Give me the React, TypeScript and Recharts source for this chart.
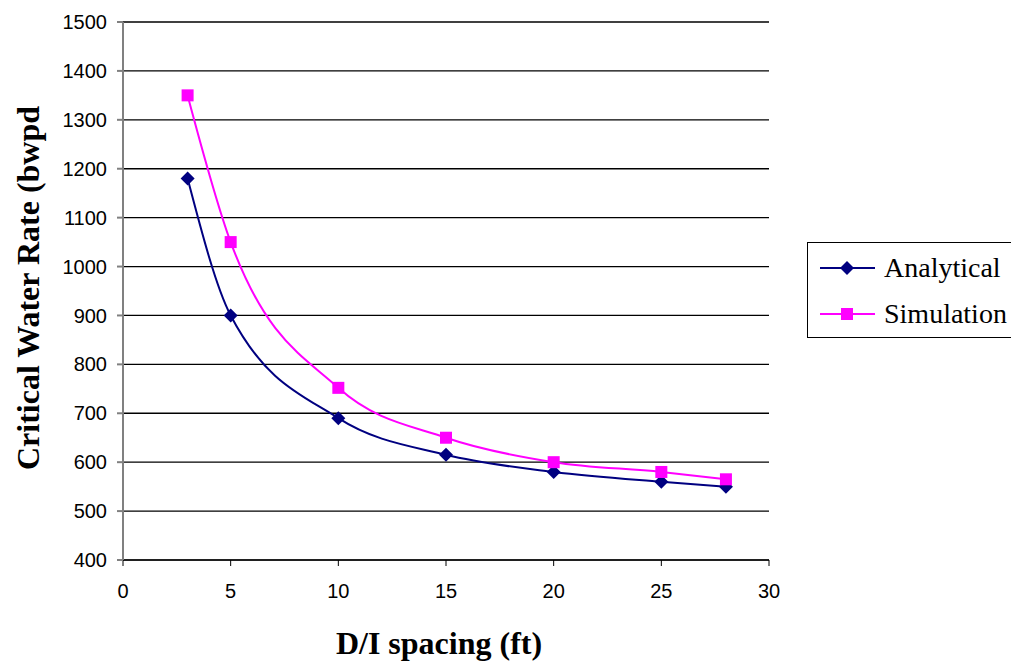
import React from "react";
import {
  LineChart,
  Line,
  XAxis,
  YAxis,
  CartesianGrid,
  Label,
} from "recharts";

const spacing = [3, 5, 10, 15, 20, 25, 28];
const analytical = [1180, 900, 690, 615, 580, 560, 550];
const simulation = [1350, 1050, 752, 650, 600, 580, 565];
const xTicks = [0, 5, 10, 15, 20, 25, 30];
const yTicks = [400, 500, 600, 700, 800, 900, 1000, 1100, 1200, 1300, 1400, 1500];

const data = spacing.map((s, i) => ({
  spacing: s,
  analytical: analytical[i],
  simulation: simulation[i],
}));

const NAVY = "#000080";
const PINK = "#FF00FF";
const SERIF = "'Liberation Serif', 'Times New Roman', serif";
const SANS = "'Liberation Sans', Arial, sans-serif";

const Diamond = (props: any) => {
  const { cx, cy, index } = props;
  const r = 7;
  return (
    <path
      key={"d" + index}
      d={`M${cx},${cy - r}L${cx + r},${cy}L${cx},${cy + r}L${cx - r},${cy}Z`}
      fill={NAVY}
    />
  );
};

const Square = (props: any) => {
  const { cx, cy, index } = props;
  const s = 12;
  return <rect key={"s" + index} x={cx - s / 2} y={cy - s / 2} width={s} height={s} fill={PINK} />;
};

const LegendBox = () => (
  <div
    style={{
      position: "absolute",
      left: 807,
      top: 242,
      border: "1px solid #000",
      width: 220,
      height: 96,
      boxSizing: "border-box",
      fontFamily: SERIF,
      fontSize: 28,
      background: "#fff",
      paddingTop: 2,
    }}
  >
    {[
      { name: "Analytical", color: NAVY, shape: "d" },
      { name: "Simulation", color: PINK, shape: "s" },
    ].map((e) => (
      <div key={e.name} style={{ display: "flex", alignItems: "center", height: 46 }}>
        <svg width={66} height={20} style={{ marginLeft: 10 }}>
          <line x1={2} y1={10} x2={57} y2={10} stroke={e.color} strokeWidth={2} />
          {e.shape === "d" ? (
            <path d="M29,3L36,10L29,17L22,10Z" fill={e.color} />
          ) : (
            <rect x={23} y={4} width={12} height={12} fill={e.color} />
          )}
        </svg>
        <span>{e.name}</span>
      </div>
    ))}
  </div>
);

const App = () => {
  return (
    <div style={{ position: "absolute", left: 0, top: 0, width: 1011, height: 663 }}>
      <LineChart
        width={1011}
        height={663}
        data={data}
        margin={{ top: 22, right: 242, bottom: 73, left: 0 }}
      >
        <CartesianGrid vertical={false} stroke="#000" strokeWidth={1.3} />
        <XAxis
          dataKey="spacing"
          type="number"
          domain={[0, 30]}
          ticks={xTicks}
          height={30}
          stroke="#000"
          tickSize={6}
          tickMargin={18}
          tick={{ fill: "#000", fontSize: 20, fontFamily: SANS }}
        >
          <Label
            content={() => (
              <text
                x={439}
                y={654}
                textAnchor="middle"
                fill="#000"
                fontSize={32}
                fontWeight="bold"
                fontFamily={SERIF}
              >
                D/I spacing (ft)
              </text>
            )}
          />
        </XAxis>
        <YAxis
          type="number"
          domain={[400, 1500]}
          ticks={yTicks}
          width={123}
          stroke="#808080"
          strokeWidth={2}
          tickSize={6}
          tickMargin={10}
          tick={{ fill: "#000", fontSize: 20, fontFamily: SANS }}
        >
          <Label
            content={() => (
              <text
                x={39}
                y={288}
                transform="rotate(-90, 39, 288)"
                textAnchor="middle"
                fill="#000"
                fontSize={32}
                fontWeight="bold"
                fontFamily={SERIF}
              >
                Critical Water Rate (bwpd
              </text>
            )}
          />
        </YAxis>
        <Line
          type="monotone"
          dataKey="analytical"
          name="Analytical"
          stroke={NAVY}
          strokeWidth={2}
          dot={Diamond}
          isAnimationActive={false}
        />
        <Line
          type="monotone"
          dataKey="simulation"
          name="Simulation"
          stroke={PINK}
          strokeWidth={2}
          dot={Square}
          isAnimationActive={false}
        />
      </LineChart>
      <LegendBox />
    </div>
  );
};

export default App;
